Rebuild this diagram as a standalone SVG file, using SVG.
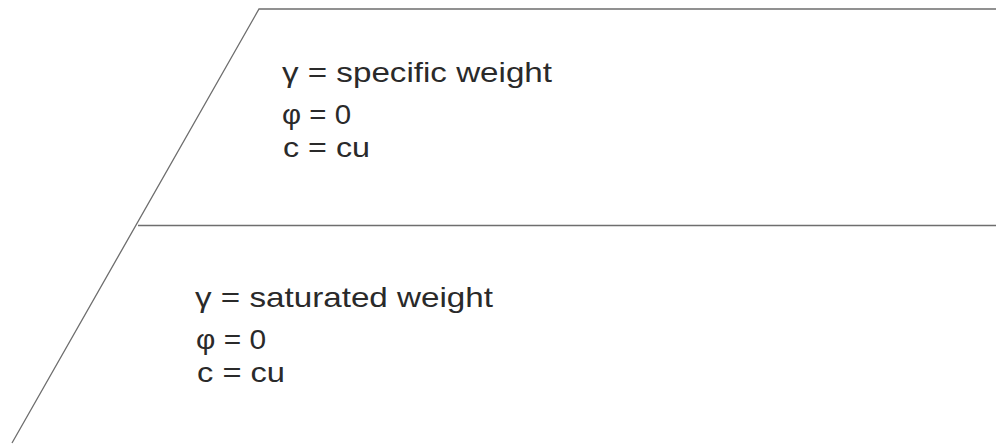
<svg xmlns="http://www.w3.org/2000/svg" width="1000" height="448" viewBox="0 0 1000 448">
<style>
.ln{stroke:#6e6e6e;stroke-width:1.3;fill:none}
.t{font-family:"Liberation Sans",Arial,sans-serif;font-size:28px;fill:#2a2a2a}
</style>
<rect width="1000" height="448" fill="#ffffff"/>
<g id="boundaries">
<polyline class="ln" points="996,9 259,9 12,443"/>
<line class="ln" x1="138" y1="225.5" x2="996" y2="225.5"/>
</g>
<g id="upper-layer">
<text class="t" x="282" y="82" textLength="270" lengthAdjust="spacingAndGlyphs">γ = specific weight</text>
<text class="t" x="282" y="124" textLength="69" lengthAdjust="spacingAndGlyphs">φ = 0</text>
<text class="t" x="283" y="157" textLength="87" lengthAdjust="spacingAndGlyphs">c = cu</text>
</g>
<g id="lower-layer">
<text class="t" x="195" y="307" textLength="298" lengthAdjust="spacingAndGlyphs">γ = saturated weight</text>
<text class="t" x="196" y="349" textLength="70" lengthAdjust="spacingAndGlyphs">φ = 0</text>
<text class="t" x="197" y="382" textLength="88" lengthAdjust="spacingAndGlyphs">c = cu</text>
</g>
</svg>
